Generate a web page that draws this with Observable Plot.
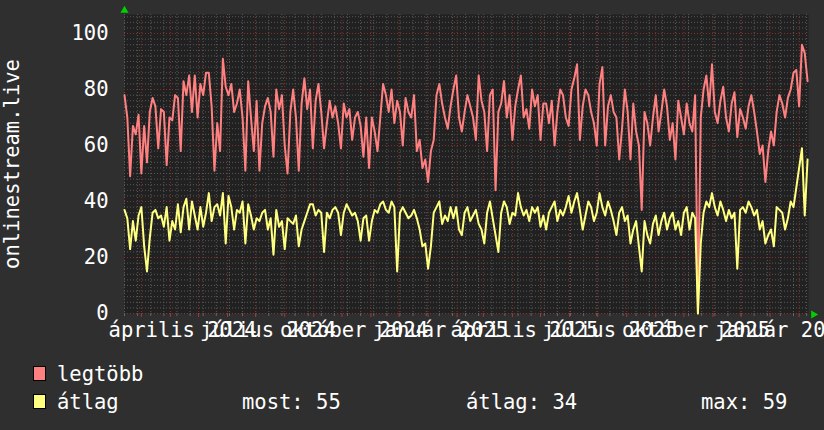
<!DOCTYPE html>
<html>
<head>
<meta charset="utf-8">
<script src="https://cdn.jsdelivr.net/npm/d3@7"></script>
<script src="https://cdn.jsdelivr.net/npm/@observablehq/plot@0.6"></script>
<style>
  html, body { margin: 0; padding: 0; background: #2f2f2f; }
  body { width: 824px; height: 430px; position: relative; overflow: hidden; font-family: "DejaVu Sans Mono", monospace; color: #fff; }
  #chart svg { display: block; }
  .sw { position: absolute; width: 13px; height: 15px; border: 1px solid #000; box-sizing: border-box; }
  .lt { position: absolute; font-size: 20.5px; line-height: 1; white-space: pre; color: #fff; }
</style>
</head>
<body>
<div id="chart"></div>
<div id="legend"></div>
<script>
// ---- data (3-day samples starting 2024-02-12) ----
const startDate = "2024-02-12";
const endDate = "2026-02-11";
const stepDays = 3;

const legtobb = [
  78, 70, 49, 67, 64, 71, 50, 67, 54, 72,
  77, 74, 59, 73, 72, 53, 70, 69, 78, 77,
  58, 83, 78, 85, 72, 85, 70, 82, 78, 86,
  86, 74, 51, 68, 58, 91, 81, 78, 82, 72,
  75, 80, 70, 51, 83, 70, 58, 76, 51, 68,
  74, 77, 72, 56, 80, 73, 78, 60, 50, 72,
  80, 70, 51, 75, 84, 73, 80, 59, 76, 82,
  72, 59, 68, 76, 70, 74, 68, 59, 75, 70,
  73, 62, 70, 72, 67, 56, 70, 52, 70, 65,
  58, 70, 82, 78, 72, 80, 68, 76, 72, 60,
  77, 72, 70, 78, 58, 62, 52, 55, 47, 58,
  62, 78, 82, 75, 70, 66, 74, 80, 85, 70,
  65, 72, 78, 74, 70, 62, 85, 76, 72, 58,
  78, 80, 44, 72, 75, 83, 70, 78, 62, 74,
  80, 85, 70, 73, 66, 80, 74, 78, 62, 75,
  75, 68, 76, 60, 72, 80, 78, 70, 67, 80,
  84, 89, 62, 74, 80, 78, 72, 68, 60, 82,
  88, 60, 74, 78, 72, 70, 55, 66, 80, 72,
  55, 75, 65, 60, 37, 72, 68, 60, 70, 78,
  65, 72, 80, 74, 62, 68, 55, 76, 70, 64,
  75, 68, 65, 78, 0, 70, 80, 85, 74, 89,
  72, 68, 76, 81, 70, 65, 75, 79, 63, 73,
  70, 66, 74, 78, 72, 65, 57, 60, 47, 58,
  65, 60, 72, 78, 75, 70, 77, 80, 86, 87,
  74, 96, 93, 83
];

const atlag = [
  37, 34, 23, 33, 26, 35, 38, 24, 15, 27,
  36, 37, 34, 35, 31, 38, 26, 33, 30, 39,
  29, 38, 41, 30, 40, 35, 30, 38, 31, 36,
  43, 33, 38, 39, 35, 43, 25, 42, 38, 30,
  37, 36, 40, 25, 39, 35, 30, 34, 33, 36,
  37, 30, 34, 21, 37, 31, 33, 23, 34, 33,
  32, 35, 24, 30, 33, 36, 39, 39, 35, 37,
  36, 22, 36, 34, 37, 38, 36, 28, 36, 39,
  37, 35, 36, 33, 26, 34, 35, 26, 33, 37,
  36, 39, 40, 37, 36, 40, 38, 15, 36, 38,
  36, 34, 35, 37, 34, 30, 24, 25, 16, 24,
  36, 38, 40, 32, 35, 33, 38, 34, 38, 30,
  28, 36, 38, 33, 35, 37, 32, 30, 25, 36,
  40, 34, 28, 22, 36, 40, 38, 32, 36, 35,
  43, 38, 35, 37, 33, 38, 36, 38, 31, 35,
  30, 36, 38, 40, 33, 37, 35, 38, 42, 36,
  40, 43, 37, 30, 35, 40, 38, 33, 36, 43,
  38, 35, 40, 37, 33, 28, 36, 38, 33, 35,
  25, 30, 33, 24, 15, 33, 28, 25, 32, 35,
  28, 33, 36, 30, 34, 36, 30, 33, 28, 36,
  38, 30, 36, 34, 0, 25, 36, 40, 38, 43,
  38, 35, 40, 37, 33, 37, 34, 36, 16, 37,
  38, 36, 40, 38, 35, 37, 30, 33, 25, 28,
  30, 24, 38, 37, 36, 30, 34, 40, 38, 45,
  52, 59, 35, 55
];

const labelDates = ["2024-04-14", "2024-07-14", "2024-10-14", "2025-01-14", "2025-04-14", "2025-07-14", "2025-10-14", "2026-01-14"];
const labelTexts = ["április 2024", "július 2024", "október 2024", "január 2025", "április 2025", "július 2025", "október 2025", "január 2026"];
const yTickValues = [0, 20, 40, 60, 80, 100];
const yMax = 106.8;
const yTitle = "onlinestream.live";
const seriesNames = ["legtöbb", "átlag"];
const seriesColors = ["#ff8080", "#ffff80"];
const statLabels = ["most: 55", "átlag: 34", "max: 59"];

// ---- build tables ----
const t0 = new Date(startDate + "T00:00:00Z");
const t1 = new Date(endDate + "T00:00:00Z");
const dayMs = 864e5;
const dates = legtobb.map((_, i) => new Date(t0.getTime() + i * stepDays * dayMs));
const redData = legtobb.map((v, i) => ({date: dates[i], value: v}));
const yelData = atlag.map((v, i) => ({date: dates[i], value: v}));
const xLabels = labelDates.map((d, i) => ({date: new Date(d + "T00:00:00Z"), label: labelTexts[i]}));
const monthTicks = d3.utcMonth.range(t0, t1);
const minorX = d3.range(0, 731, 14).map(k => new Date(t0.getTime() + k * dayMs));
const minorY = d3.range(0, yMax, 2).filter(v => v % 20 !== 0);

const minorColor = "#5a5a5a";
const majorColor = "#853232";

const chart = Plot.plot({
  width: 824,
  height: 345,
  marginLeft: 124,
  marginRight: 16,
  marginTop: 14,
  marginBottom: 32,
  style: {background: "transparent", color: "#ffffff", fontFamily: "DejaVu Sans Mono", fontSize: "20.5px", overflow: "visible"},
  x: {type: "utc", domain: [t0, t1], axis: null},
  y: {domain: [0, yMax], axis: null},
  marks: [
    Plot.frame({fill: "#212121", stroke: null}),
    Plot.ruleX(minorX, {stroke: minorColor, strokeWidth: 1, strokeDasharray: "1,2"}),
    Plot.ruleY(minorY, {stroke: minorColor, strokeWidth: 1, strokeDasharray: "1,2"}),
    Plot.ruleX(monthTicks, {stroke: majorColor, strokeWidth: 1, strokeDasharray: "1,2"}),
    Plot.ruleY(yTickValues, {stroke: majorColor, strokeWidth: 1, strokeDasharray: "1,2"}),
    Plot.axisX(minorX, {tickSize: 3, tickFormat: () => "", stroke: "#666"}),
    Plot.axisX(monthTicks, {tickSize: 4, tickFormat: () => "", stroke: "#a03a3a"}),
    Plot.line(redData, {x: "date", y: "value", stroke: seriesColors[0], strokeWidth: 2}),
    Plot.line(yelData, {x: "date", y: "value", stroke: seriesColors[1], strokeWidth: 2}),
    Plot.text(yTickValues, {y: d => d, text: d => String(d), frameAnchor: "left", textAnchor: "end", dx: -16, fill: "#ffffff", fontSize: 20.5}),
    Plot.text(xLabels, {x: "date", text: "label", frameAnchor: "bottom", lineAnchor: "top", dy: 9, fill: "#ffffff", fontSize: 20.5}),
    Plot.text([yTitle], {text: d => d, frameAnchor: "left", textAnchor: "middle", lineAnchor: "middle", dx: -112, rotate: -90, fill: "#ffffff", fontSize: 20.5}),
    Plot.dot([0], {frameAnchor: "top-left", symbol: "triangle", r: 3, fill: "#00d000", stroke: null, dy: -4}),
    Plot.dot([0], {frameAnchor: "bottom-right", symbol: "triangle", r: 3, fill: "#00d000", stroke: null, dx: 5, dy: 1, rotate: 90})
  ]
});
document.getElementById("chart").appendChild(chart);

// ---- legend (HTML below the SVG) ----
const legend = document.getElementById("legend");
function addSwatch(top, color) {
  const s = document.createElement("div");
  s.className = "sw";
  s.style.left = "33px"; s.style.top = top + "px"; s.style.background = color;
  legend.appendChild(s);
}
function addText(left, top, txt) {
  const t = document.createElement("div");
  t.className = "lt";
  t.style.left = left + "px"; t.style.top = top + "px";
  t.textContent = txt;
  legend.appendChild(t);
}
addSwatch(366, seriesColors[0]);
addText(57, 364, seriesNames[0]);
addSwatch(394, seriesColors[1]);
addText(57, 392, seriesNames[1]);
addText(242, 392, statLabels[0]);
addText(466, 392, statLabels[1]);
addText(701, 392, statLabels[2]);
</script>
</body>
</html>
